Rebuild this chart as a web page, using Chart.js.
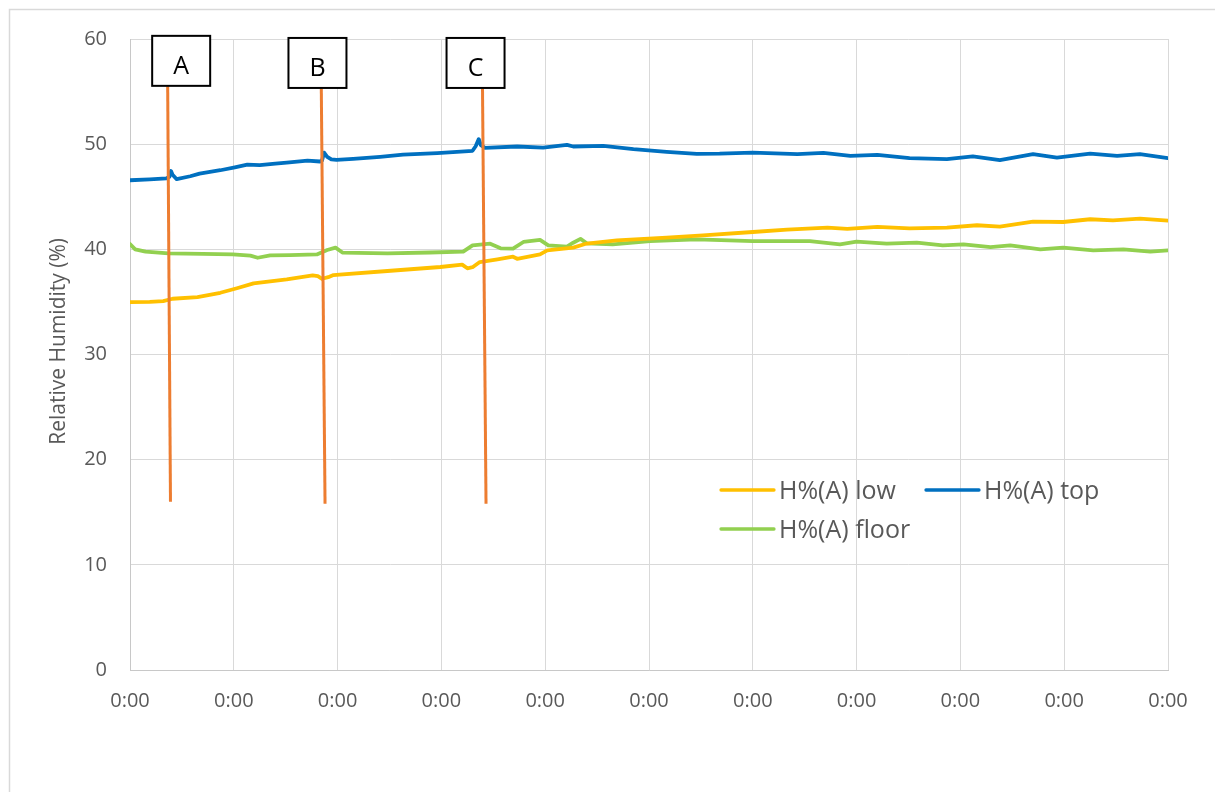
<!DOCTYPE html>
<html>
<head>
<meta charset="utf-8">
<script src="https://cdn.jsdelivr.net/npm/chart.js@4.4.1/dist/chart.umd.min.js"></script>
<style>
html,body{margin:0;padding:0;background:#fff;}
canvas{display:block;}
</style>
</head>
<body>
<canvas id="c" width="1215" height="792"></canvas>
<script>
// ---- data ----
const timeLabels = ['0:00','0:00','0:00','0:00','0:00','0:00','0:00','0:00','0:00','0:00','0:00'];
const yAxisTitle = 'Relative Humidity (%)';

const seriesNames = ['H%(A) low', 'H%(A) top', 'H%(A) floor'];

const lowX = [0, 0.19, 0.32, 0.41, 0.65, 0.87, 1.03, 1.19, 1.35, 1.51, 1.76, 1.81, 1.85, 1.91, 1.96, 2.02, 2.48, 2.99, 3.20, 3.25, 3.30, 3.37, 3.54, 3.69, 3.73, 3.95, 4.02, 4.27, 4.40, 4.69, 5.17, 5.52, 6.00, 6.33, 6.72, 6.91, 7.20, 7.51, 7.87, 8.16, 8.38, 8.70, 8.99, 9.25, 9.47, 9.73, 10];
const lowH = [34.98, 35.0, 35.08, 35.3, 35.46, 35.87, 36.3, 36.76, 36.95, 37.14, 37.52, 37.45, 37.2, 37.35, 37.55, 37.6, 37.94, 38.32, 38.55, 38.2, 38.3, 38.79, 39.05, 39.3, 39.1, 39.52, 39.9, 40.16, 40.55, 40.86, 41.11, 41.33, 41.65, 41.87, 42.06, 41.94, 42.13, 42.0, 42.06, 42.29, 42.16, 42.63, 42.6, 42.86, 42.76, 42.92, 42.73];

const topX = [0, 0.19, 0.35, 0.38, 0.395, 0.41, 0.45, 0.58, 0.67, 0.87, 1.01, 1.13, 1.25, 1.40, 1.51, 1.71, 1.83, 1.85, 1.87, 1.90, 1.94, 1.99, 2.15, 2.41, 2.63, 2.96, 3.30, 3.33, 3.36, 3.38, 3.42, 3.73, 3.98, 4.21, 4.27, 4.56, 4.85, 5.17, 5.46, 5.68, 6.00, 6.43, 6.68, 6.94, 7.20, 7.51, 7.87, 8.12, 8.38, 8.70, 8.93, 9.25, 9.51, 9.73, 10];
const topH = [46.57, 46.65, 46.75, 46.9, 47.45, 47.1, 46.67, 46.95, 47.2, 47.52, 47.8, 48.05, 48.0, 48.15, 48.25, 48.44, 48.35, 48.45, 49.2, 48.8, 48.55, 48.5, 48.6, 48.8, 49.0, 49.15, 49.37, 49.8, 50.48, 49.9, 49.65, 49.78, 49.68, 49.94, 49.78, 49.84, 49.52, 49.27, 49.08, 49.1, 49.2, 49.05, 49.17, 48.89, 48.98, 48.67, 48.57, 48.83, 48.48, 49.05, 48.73, 49.11, 48.89, 49.05, 48.67];

const floorX = [0, 0.05, 0.15, 0.37, 0.70, 0.99, 1.16, 1.23, 1.35, 1.54, 1.80, 1.90, 1.98, 2.05, 2.48, 2.89, 3.21, 3.30, 3.47, 3.57, 3.69, 3.79, 3.95, 4.03, 4.21, 4.27, 4.34, 4.40, 4.65, 5.01, 5.46, 6.00, 6.55, 6.84, 7.00, 7.29, 7.58, 7.83, 8.03, 8.29, 8.48, 8.77, 8.99, 9.28, 9.57, 9.83, 10];
const floorH = [40.5, 40.0, 39.78, 39.62, 39.56, 39.52, 39.4, 39.2, 39.43, 39.45, 39.52, 39.94, 40.16, 39.68, 39.62, 39.7, 39.78, 40.38, 40.54, 40.1, 40.06, 40.7, 40.9, 40.38, 40.25, 40.63, 41.0, 40.57, 40.48, 40.79, 40.95, 40.79, 40.79, 40.48, 40.73, 40.54, 40.63, 40.38, 40.48, 40.22, 40.38, 40.0, 40.16, 39.9, 40.0, 39.78, 39.9];

// event markers A, B, C (in axis units)
const markerNames = ['A', 'B', 'C'];
const markerTopX = [0.363, 1.843, 3.396];
const markerBottomX = [0.390, 1.879, 3.430];
const markerTopH = [55.5, 55.3, 55.3];
const markerBottomH = [16.0, 15.8, 15.8];
const markerLabelX = [0.493, 1.806, 3.329];
const markerLabelH = [60.3, 60.1, 60.1];

// ---- styles ----
const FONT = '"Open Sans", "DejaVu Sans", sans-serif';
const TEXT = '#595959';
const GRID = '#d9d9d9';
const seriesColors = ['#FFC000', '#0070C0', '#92D050'];
const markerColor = '#ED7D31';

const pts = (xs, ys) => xs.map((x, i) => ({ x: x, y: ys[i] }));

const datasets = [];
markerNames.forEach((m, i) => {
  datasets.push({
    label: 'marker ' + m,
    data: [{ x: markerTopX[i], y: markerTopH[i] }, { x: markerBottomX[i], y: markerBottomH[i] }],
    borderColor: markerColor,
    borderWidth: 3,
    order: 0,
    inLegend: false
  });
});
const seriesData = [pts(lowX, lowH), pts(topX, topH), pts(floorX, floorH)];
seriesNames.forEach((n, i) => {
  datasets.push({
    label: n,
    data: seriesData[i],
    borderColor: seriesColors[i],
    borderWidth: 3.8,
    borderJoinStyle: 'round',
    borderCapStyle: 'round',
    order: 1 + i,
    inLegend: true
  });
});

const framePlugin = {
  id: 'frame',
  beforeDraw(chart) {
    const ctx = chart.ctx;
    ctx.save();
    ctx.fillStyle = '#ffffff';
    ctx.fillRect(0, 0, chart.width, chart.height);
    ctx.strokeStyle = GRID;
    ctx.lineWidth = 1.5;
    ctx.strokeRect(9.5, 9.5, chart.width + 50, chart.height + 50);
    ctx.restore();
  }
};

const yTitlePlugin = {
  id: 'yTitle',
  afterDraw(chart) {
    const ctx = chart.ctx;
    ctx.save();
    ctx.translate(65, 238);
    ctx.rotate(-Math.PI / 2);
    ctx.font = '21px ' + FONT;
    ctx.fillStyle = TEXT;
    ctx.textAlign = 'right';
    ctx.textBaseline = 'alphabetic';
    ctx.fillText(yAxisTitle, 0, 0);
    ctx.restore();
  }
};

const markerBoxPlugin = {
  id: 'markerBoxes',
  afterDatasetsDraw(chart) {
    const ctx = chart.ctx;
    const xs = chart.scales.x, ys = chart.scales.y;
    ctx.save();
    markerNames.forEach((m, i) => {
      const cx = xs.getPixelForValue(markerLabelX[i]);
      const top = ys.getPixelForValue(markerLabelH[i]);
      const w = 58, h = 50;
      ctx.fillStyle = '#ffffff';
      ctx.fillRect(cx - w / 2, top, w, h);
      ctx.strokeStyle = '#000000';
      ctx.lineWidth = 2;
      ctx.strokeRect(cx - w / 2, top, w, h);
      ctx.fillStyle = '#000000';
      ctx.font = '25px ' + FONT;
      ctx.textAlign = 'center';
      ctx.textBaseline = 'alphabetic';
      ctx.fillText(m, cx, top + 38);
    });
    ctx.restore();
  }
};

const legendPlugin = {
  id: 'boxLegend',
  afterDraw(chart) {
    const ctx = chart.ctx;
    const slots = [[721, 490], [926, 490], [721, 529]];
    const items = chart.data.datasets.filter(d => d.inLegend);
    ctx.save();
    ctx.font = '25px ' + FONT;
    items.forEach((d, i) => {
      const [x, y] = slots[i];
      ctx.strokeStyle = d.borderColor;
      ctx.lineWidth = 3.3;
      ctx.lineCap = 'round';
      ctx.beginPath();
      ctx.moveTo(x, y);
      ctx.lineTo(x + 53, y);
      ctx.stroke();
      ctx.fillStyle = TEXT;
      ctx.textAlign = 'left';
      ctx.textBaseline = 'alphabetic';
      ctx.fillText(d.label, x + 58, y + 8.5);
    });
    ctx.restore();
  }
};

new Chart(document.getElementById('c'), {
  type: 'line',
  data: { datasets: datasets },
  options: {
    responsive: false,
    animation: false,
    devicePixelRatio: 1,
    layout: { padding: { left: 0, top: 39, right: 47, bottom: 0 } },
    elements: { point: { radius: 0, hoverRadius: 0 }, line: { tension: 0 } },
    scales: {
      x: {
        type: 'linear',
        min: 0,
        max: 10,
        ticks: {
          stepSize: 1,
          autoSkip: false,
          maxRotation: 0,
          padding: 19,
          color: TEXT,
          font: { family: FONT, size: 20 },
          callback: (v, i) => timeLabels[i]
        },
        grid: { color: GRID, lineWidth: 1, drawTicks: false },
        border: { color: '#c8c8c8', width: 1 },
        afterFit: s => { s.height = 122; }
      },
      y: {
        min: 0,
        max: 60,
        ticks: {
          stepSize: 10,
          padding: 23,
          color: TEXT,
          font: { family: FONT, size: 20 }
        },
        grid: { color: GRID, lineWidth: 1, drawTicks: false },
        border: { color: '#c8c8c8', width: 1 },
        afterFit: s => { s.width = 130; }
      }
    },
    plugins: {
      legend: { display: false },
      tooltip: { enabled: false },
      title: { display: false }
    }
  },
  plugins: [framePlugin, markerBoxPlugin, legendPlugin, yTitlePlugin]
});
</script>
</body>
</html>
